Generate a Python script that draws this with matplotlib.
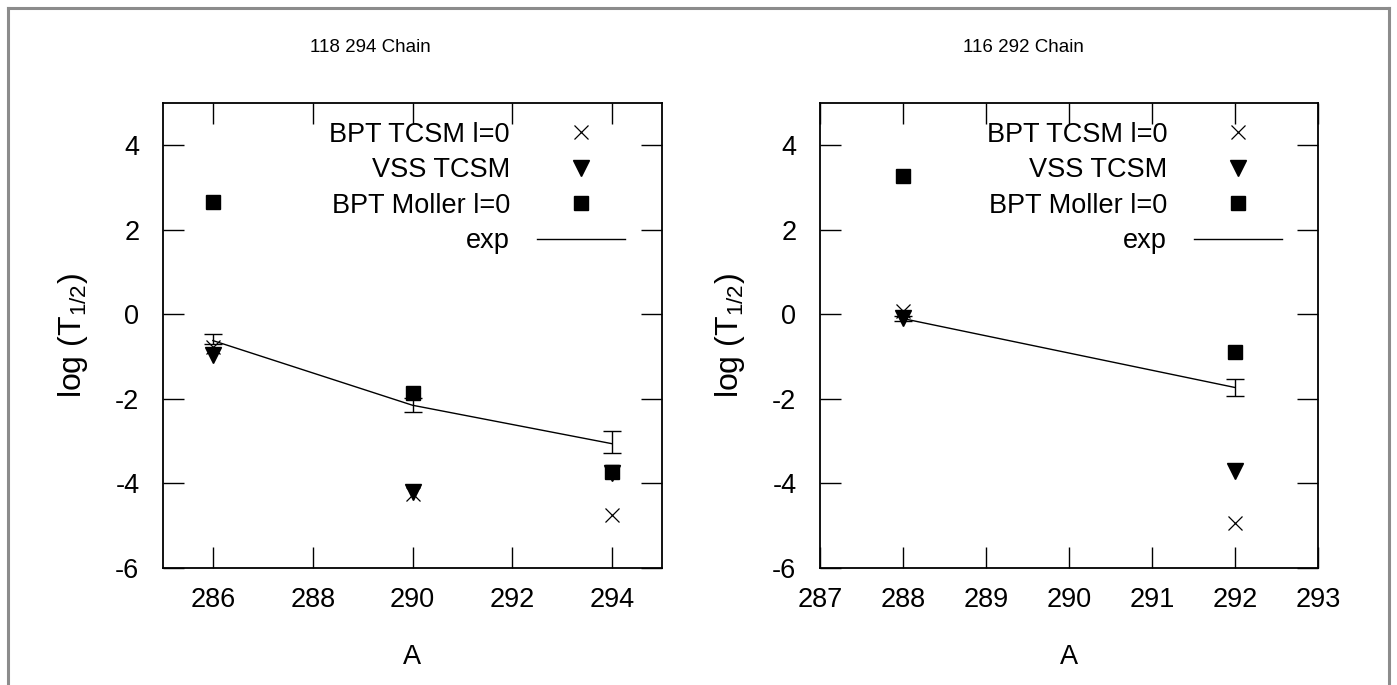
import matplotlib
matplotlib.use("Agg")
import matplotlib.pyplot as plt
from matplotlib.lines import Line2D

plt.rcParams['font.family'] = ['Liberation Sans', 'DejaVu Sans']
plt.rcParams['mathtext.fontset'] = 'custom'
plt.rcParams['mathtext.rm'] = 'Liberation Sans'
plt.rcParams['mathtext.it'] = 'Liberation Sans:italic'
plt.rcParams['axes.unicode_minus'] = False

# ---- data: 118 294 chain ----
left_title = "118 294 Chain"
left_A = [286, 290, 294]
left_bpt_tcsm = [-0.78, -4.25, -4.74]
left_vss_tcsm = [-0.97, -4.2, -3.75]
left_bpt_moller = [2.65, -1.87, -3.72]
left_exp = [-0.62, -2.15, -3.06]
left_exp_err_lo = [0.07, 0.15, 0.21]
left_exp_err_hi = [0.15, 0.17, 0.31]
left_xticks = [286, 288, 290, 292, 294]

# ---- data: 116 292 chain ----
right_title = "116 292 Chain"
right_A = [288, 292]
right_bpt_tcsm = [0.07, -4.93]
right_vss_tcsm = [-0.08, -3.7]
right_bpt_moller = [3.27, -0.9]
right_exp = [-0.1, -1.73]
right_exp_err_lo = [0.05, 0.21]
right_exp_err_hi = [0.05, 0.21]
right_xticks = [287, 288, 289, 290, 291, 292, 293]

yticks = [-6, -4, -2, 0, 2, 4]
labels = ["BPT TCSM l=0", "VSS TCSM", "BPT Moller l=0", "exp"]

W, H = 1397, 685
fig = plt.figure(figsize=(W / 100, H / 100), dpi=100)
FS = 19.5
TFS = 13.5

# figure border
for xs, ys in [([8 / W, 8 / W], [0, 1 - 8 / H]),
               ([8 / W, 1 - 8 / W], [1 - 8 / H, 1 - 8 / H]),
               ([1 - 8 / W, 1 - 8 / W], [0, 1 - 8 / H])]:
    fig.add_artist(Line2D(xs, ys, transform=fig.transFigure, color='#8c8c8c', lw=2.2))

def make_panel(rect, A, tcsm, vss, moller, exp, elo, ehi, xlim, xticks, title, title_x, leg_x):
    ax = fig.add_axes(rect)
    h1, = ax.plot(A, tcsm, linestyle='none', marker='x', color='black', ms=10, mew=0.9)
    h2, = ax.plot(A, vss, linestyle='none', marker='v', color='black', ms=12)
    h3, = ax.plot(A, moller, linestyle='none', marker='s', color='black', ms=10)
    ax.errorbar(A, exp, yerr=[elo, ehi], color='black', lw=1.0, elinewidth=1.0,
                capsize=6.5, capthick=1.0)
    h4 = Line2D([], [], color='black', lw=1.0)
    ax.set_xlim(*xlim)
    ax.set_ylim(-6, 5)
    ax.set_xticks(xticks)
    ax.set_yticks(yticks)
    ax.tick_params(direction='in', length=15, width=1.0, top=True, right=True,
                   labelsize=FS, colors='black')
    ax.tick_params(axis='x', pad=14)
    ax.tick_params(axis='y', pad=17)
    for s in ax.spines.values():
        s.set_linewidth(1.3)
    ax.set_xlabel("A", fontsize=FS, labelpad=22)
    ax.set_ylabel(r"log (T$_{\mathrm{1/2}}$)", fontsize=23, labelpad=18)
    ax.legend([h1, h2, h3, h4], labels, loc='upper right', bbox_to_anchor=(leg_x, 0.96),
              frameon=False, markerfirst=False, fontsize=FS, handlelength=3.25,
              handletextpad=1.0, labelspacing=0.35, borderaxespad=0, borderpad=0)
    fig.text(title_x, 1 - 47 / H, title, ha='center', va='center', fontsize=TFS)
    return ax

ax1 = make_panel([163 / W, 117 / H, 499 / W, 465 / H], left_A, left_bpt_tcsm, left_vss_tcsm,
                 left_bpt_moller, left_exp, left_exp_err_lo, left_exp_err_hi,
                 (285, 295), left_xticks, left_title, 370 / W, 0.926)
ax2 = make_panel([820 / W, 117 / H, 498 / W, 465 / H], right_A, right_bpt_tcsm, right_vss_tcsm,
                 right_bpt_moller, right_exp, right_exp_err_lo, right_exp_err_hi,
                 (287, 293), right_xticks, right_title, 1023 / W, 0.928)

fig.savefig("out.png", dpi=100)
